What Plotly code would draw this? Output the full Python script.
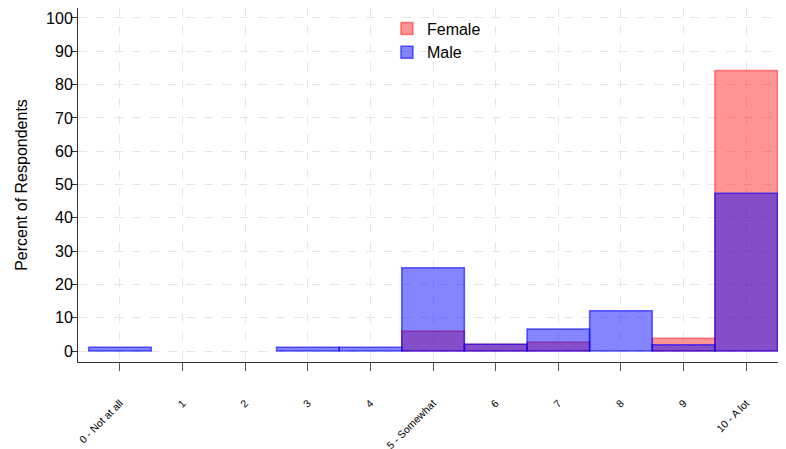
import plotly.graph_objects as go

categories = [0, 1, 2, 3, 4, 5, 6, 7, 8, 9, 10]
tick_labels = ["0 - Not at all", "1", "2", "3", "4", "5 - Somewhat", "6", "7", "8", "9", "10 - A lot"]
female = [None, None, None, None, None, 6.0, 2.0, 2.7, None, 3.8, 84.2]
male = [1.1, None, None, 1.1, 1.1, 25.0, 2.0, 6.6, 12.1, 1.9, 47.4]

fig = go.Figure()
fig.add_trace(go.Bar(
    x=categories, y=female, name="Female", width=1.0,
    marker=dict(color="rgba(255,0,0,0.42)", line=dict(color="rgba(255,0,0,0.45)", width=1.5)),
))
fig.add_trace(go.Bar(
    x=categories, y=male, name="Male", width=1.0,
    marker=dict(color="rgba(0,0,255,0.48)", line=dict(color="rgba(0,0,255,0.6)", width=1.5)),
))

fig.update_layout(
    barmode="overlay",
    width=778, height=441,
    margin=dict(l=70, r=1, t=0, b=87),
    paper_bgcolor="white", plot_bgcolor="white",
    font=dict(family="Liberation Sans, Arial, sans-serif", color="black"),
    showlegend=True,
    legend=dict(x=0.437, y=0.99, xanchor="left", yanchor="top",
                font=dict(size=16), bgcolor="rgba(255,255,255,0)",
                traceorder="normal"),
)
fig.update_xaxes(
    range=[-0.67, 10.62], automargin=False,
    tickmode="array", tickvals=categories, ticktext=tick_labels,
    tickangle=-45, tickfont=dict(size=10.5),
    ticks="outside", ticklen=8, tickcolor="#555", ticklabelstandoff=22,
    showline=True, linecolor="#333", linewidth=1,
    showgrid=True, gridcolor="#e6e6e6", griddash="dash", gridwidth=1,
    zeroline=False,
)
fig.update_yaxes(
    range=[-3.3, 103], automargin=False,
    tickmode="array", tickvals=list(range(0, 101, 10)),
    tickfont=dict(size=16),
    ticks="outside", ticklen=5, tickcolor="#333", ticklabelstandoff=-4,
    showline=True, linecolor="#333", linewidth=1,
    showgrid=True, gridcolor="#e6e6e6", griddash="dash", gridwidth=1,
    zeroline=False,
    title=dict(text="Percent of Respondents", font=dict(size=16), standoff=14),
)

fig.write_html("out.html")
